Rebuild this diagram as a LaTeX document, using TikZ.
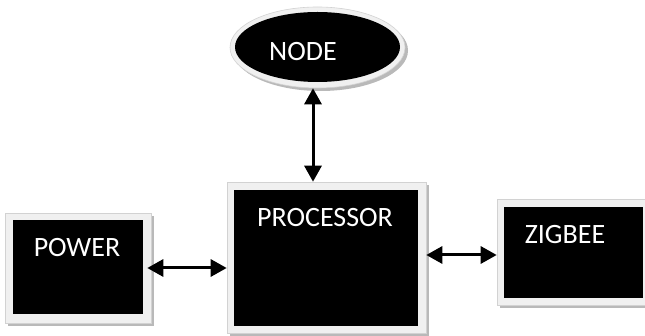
\documentclass[tikz,border=0pt]{standalone}
\usepackage{fontspec}
\setmainfont{Carlito}
\usetikzlibrary{shapes.geometric,shadows,arrows.meta}
\begin{document}
\begin{tikzpicture}[x=1pt,y=-1pt,
  frame/.style={draw=gray!35, line width=0.6pt, fill=gray!12, inner sep=0pt,
    drop shadow={shadow xshift=3pt,shadow yshift=-3pt,fill=gray!55,opacity=1}},
  blk/.style={fill=black, inner sep=0pt},
  lbl/.style={text=white, font=\fontsize{28}{30}\selectfont, inner sep=0pt},
  link/.style={{Triangle[length=16pt,width=17pt]}-{Triangle[length=16pt,width=17pt]}, line width=3pt}]
\useasboundingbox (0,0) rectangle (645,336);
% frames
\node[frame, minimum width=146pt, minimum height=110pt] (powerF) at (78,268) {};
\node[frame, minimum width=199pt, minimum height=151pt] (procF) at (326.5,257.5) {};
\node[frame, minimum width=150pt, minimum height=106pt] (zigF) at (572,252) {};
\node[frame, ellipse, minimum width=175pt, minimum height=81pt] (nodeF) at (317.5,47.5) {};
% black bodies
\node[blk, minimum width=130pt, minimum height=94pt] (power) at (78,267) {};
\node[blk, minimum width=184pt, minimum height=136pt] (proc) at (326,258) {};
\node[blk, minimum width=139pt, minimum height=91pt] (zig) at (573.5,252.5) {};
\node[blk, ellipse, minimum width=165pt, minimum height=70pt] (node) at (317.5,47) {};
% labels
\node[lbl] (powerL) at (77,248) {POWER};
\node[lbl] (procL) at (325,218) {PROCESSOR};
\node[lbl] (zigL) at (565,235) {ZIGBEE};
\node[lbl] (nodeL) at (303,52) {NODE};
% connectors
\draw[link] ([xshift=-4pt]powerF.east) -- (powerF.east -| procF.west);
\draw[link] ([yshift=-3pt]zigF.west -| procF.east) -- ([yshift=-3pt]zigF.west);
\draw[link] ([xshift=-4.5pt]nodeF.south) -- ([xshift=-4.5pt]nodeF.south |- procF.north);
\end{tikzpicture}
\end{document}
